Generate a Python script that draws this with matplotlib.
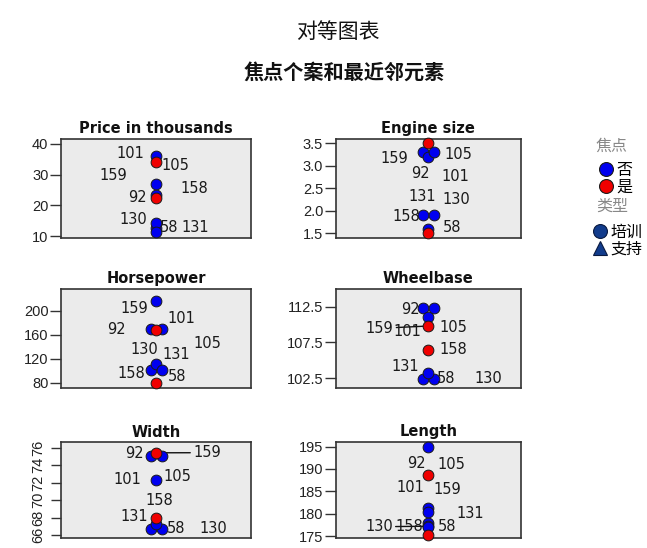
import matplotlib
matplotlib.use("Agg")
import matplotlib.pyplot as plt
from matplotlib.lines import Line2D
import numpy as np

# ---------------- data ----------------
cases = ['58', '92', '101', '105', '130', '131', '158', '159']
is_focal = [False, False, False, False, False, False, True, True]

panel_titles = ['Price in thousands', 'Engine size', 'Horsepower',
                'Wheelbase', 'Width', 'Length']

price = [12.5, 23.4, 35.9, 27.0, 14.1, 11.3, 22.3, 34.2]
engine = [1.6, 3.3, 3.2, 3.3, 1.9, 1.9, 1.5, 3.5]
horsepower = [102, 170, 217, 170, 111, 102, 79, 169]
wheelbase = [102.4, 112.3, 111.1, 112.3, 102.4, 103.2, 106.4, 109.8]
width = [66.7, 75.0, 72.3, 75.0, 66.7, 67.3, 68.0, 75.4]
length = [178.0, 195.0, 181.2, 180.4, 177.2, 177.0, 175.2, 188.7]

price_ticks = [10, 20, 30, 40]
engine_ticks = [1.5, 2.0, 2.5, 3.0, 3.5]
hp_ticks = [80, 120, 160, 200]
wb_ticks = [102.5, 107.5, 112.5]
width_ticks = [66, 68, 70, 72, 74, 76]
length_ticks = [175, 180, 185, 190, 195]

price_ticklabels = ['10', '20', '30', '40']
engine_ticklabels = ['1.5', '2.0', '2.5', '3.0', '3.5']
hp_ticklabels = ['80', '120', '160', '200']
wb_ticklabels = ['102.5', '107.5', '112.5']
width_ticklabels = ['66', '68', '70', '72', '74', '76']
length_ticklabels = ['175', '180', '185', '190', '195']

main_title = '对等图表'
sub_title = '焦点个案和最近邻元素'
legend1_title = '焦点'
legend1_labels = ['否', '是']
legend2_title = '类型'
legend2_labels = ['培训', '支持']

# ---------------- layout / style ----------------
W, H = 647, 548
BLUE = '#0000F0'
RED = '#F00000'
NAVY = '#123C8C'
FACE = '#EBEBEB'
EDGE = '#333333'

# axes boxes in pixels: left, top, right, bottom
boxes = [(61, 139, 251, 238), (335.7, 139, 520.7, 237.7),
         (61, 289, 251, 388), (335.7, 289, 520.7, 388.3),
         (61, 442.3, 251, 537.7), (335.7, 441.7, 520.7, 538.3)]
ylims = [(9.35, 41.6), (1.402, 3.596), (71.1, 236.8),
         (101.1, 114.97), (65.7, 76.6), (174.5, 196.1)]

label_pos = [
    {'101': (.367, .856), '105': (.604, .737), '159': (.274, .636), '158': (.700, .502),
     '92': (.403, .411), '130': (.379, .182), '58': (.567, .104), '131': (.709, .104)},
    {'159': (.316, .804), '105': (.663, .838), '92': (.456, .652), '101': (.645, .618),
     '131': (.466, .415), '130': (.654, .389), '158': (.379, .213), '58': (.630, .105)},
    {'159': (.388, .805), '101': (.631, .704), '92': (.293, .586), '105': (.771, .452),
     '130': (.438, .391), '131': (.604, .340), '158': (.372, .148), '58': (.609, .114)},
    {'92': (.402, .796), '159': (.238, .604), '101': (.390, .577), '105': (.636, .610),
     '158': (.636, .386), '131': (.377, .218), '58': (.595, .101), '130': (.825, .101)},
    {'92': (.385, .885), '159': (.768, .891), '101': (.351, .605), '105': (.612, .639),
     '158': (.517, .388), '131': (.385, .227), '58': (.605, .099), '130': (.802, .099)},
    {'92': (.438, .776), '105': (.627, .759), '101': (.402, .524), '159': (.604, .500),
     '131': (.726, .259), '130': (.234, .120), '158': (.400, .120), '58': (.600, .120)},
]
leaders = [set(), set(), set(), {'159'}, {'159'}, {'130'}]

values_all = [price, engine, horsepower, wheelbase, width, length]
ticks_all = [price_ticks, engine_ticks, hp_ticks, wb_ticks, width_ticks, length_ticks]
ticklabels_all = [price_ticklabels, engine_ticklabels, hp_ticklabels,
                  wb_ticklabels, width_ticklabels, length_ticklabels]


def dodge(values, focal, sep):
    offs = np.zeros(len(values))
    for grp in (False, True):
        groups = {}
        for i, v in enumerate(values):
            if focal[i] == grp:
                groups.setdefault(v, []).append(i)
        for members in groups.values():
            n = len(members)
            for k, i in enumerate(members):
                offs[i] = (k - (n - 1) / 2) * sep
    return offs


fig = plt.figure(figsize=(W / 100, H / 100), dpi=100)
fig.patch.set_facecolor('white')

CJK = ['Noto Sans CJK SC', 'DejaVu Sans']

for p in range(6):
    l, t, r, b = boxes[p]
    ax = fig.add_axes([l / W, 1 - b / H, (r - l) / W, (b - t) / H])
    ax.set_facecolor(FACE)
    for s in ax.spines.values():
        s.set_color(EDGE)
        s.set_linewidth(1.2)
    ax.set_xlim(-1, 1)
    ax.set_ylim(*ylims[p])
    ax.set_xticks([])
    ax.set_yticks(ticks_all[p])
    if p == 4:
        ax.set_yticklabels(ticklabels_all[p], rotation=90, va='center',
                           family='Liberation Sans', fontsize=10.5, color='#222222')
        ax.tick_params(axis='y', length=7, width=1, color=EDGE, pad=4)
    else:
        ax.set_yticklabels(ticklabels_all[p], family='Liberation Sans',
                           fontsize=10.5, color='#222222')
        ax.tick_params(axis='y', length=8, width=1, color=EDGE, pad=1)
    ax.set_title(panel_titles[p], fontsize=10.5, fontweight='bold',
                 family='DejaVu Sans', pad=4, color='#111111')

    vals = values_all[p]
    sep = 11.0 / (r - l) * 2
    offs = dodge(vals, is_focal, sep)
    for grp, col, z in ((False, BLUE, 3), (True, RED, 4)):
        xs = [offs[i] for i in range(len(vals)) if is_focal[i] == grp]
        ys = [vals[i] for i in range(len(vals)) if is_focal[i] == grp]
        ax.scatter(xs, ys, s=60, c=col, edgecolors='#1a1a1a', linewidths=0.7,
                   zorder=z, clip_on=False)

    for i, c in enumerate(cases):
        fx, fy = label_pos[p][c]
        if c in leaders[p]:
            ax.annotate(c, xy=(offs[i], vals[i]), xycoords='data',
                        xytext=(fx, fy), textcoords='axes fraction',
                        ha='center', va='center', fontsize=10.5,
                        family='DejaVu Sans', color='#1a1a1a',
                        arrowprops=dict(arrowstyle='-', color='#111111', lw=1.0,
                                        shrinkA=0, shrinkB=0),
                        zorder=2)
        else:
            ax.text(fx, fy, c, transform=ax.transAxes, ha='center', va='center',
                    fontsize=10.5, family='DejaVu Sans', color='#1a1a1a', zorder=5)

fig.text(338 / W, 1 - 32 / H, main_title, ha='center', va='center',
         fontsize=15, family=CJK, color='#111111')
fig.text(344 / W, 1 - 72 / H, sub_title, ha='center', va='center',
         fontsize=14.5, fontweight='bold', family=CJK, color='#111111')

# legend titles
fig.text(612 / W, 1 - 146 / H, legend1_title, ha='center', va='center',
         fontsize=11.5, family=CJK, color='#888888')
fig.text(612 / W, 1 - 206 / H, legend2_title, ha='center', va='center',
         fontsize=11.5, family=CJK, color='#888888')

h1 = [Line2D([], [], ls='', marker='o', ms=10, mfc=BLUE, mec='#1a1a1a', mew=0.8),
      Line2D([], [], ls='', marker='o', ms=10, mfc=RED, mec='#1a1a1a', mew=0.8)]
leg1 = fig.legend(h1, legend1_labels, loc='center left',
                  bbox_to_anchor=(600 / W, 1 - 178.5 / H), frameon=False,
                  prop={'family': CJK, 'size': 11.5},
                  handlelength=0.8, handletextpad=0.25, labelspacing=0.0,
                  borderpad=0, borderaxespad=0)

h2 = [Line2D([], [], ls='', marker='o', ms=10, mfc=NAVY, mec='#0a1a40', mew=0.8),
      Line2D([], [], ls='', marker='^', ms=10, mfc=NAVY, mec='#0a1a40', mew=0.8)]
leg2 = fig.legend(h2, legend2_labels, loc='center left',
                  bbox_to_anchor=(594 / W, 1 - 240.5 / H), frameon=False,
                  prop={'family': CJK, 'size': 11.5},
                  handlelength=0.8, handletextpad=0.25, labelspacing=0.0,
                  borderpad=0, borderaxespad=0)

fig.savefig('out.png', dpi=100, facecolor='white')
